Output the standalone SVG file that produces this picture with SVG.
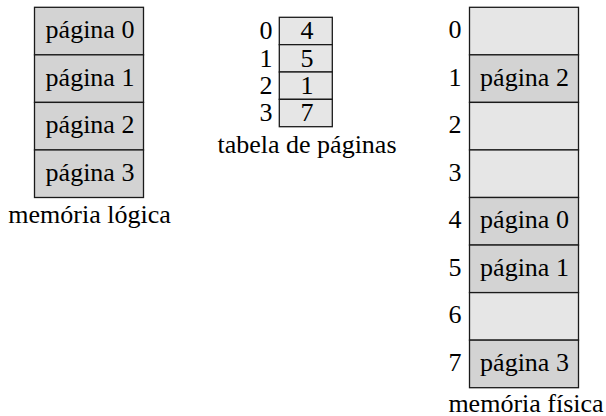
<svg xmlns="http://www.w3.org/2000/svg" width="606" height="416" viewBox="0 0 606 416">
<style>
text{font-family:"Liberation Serif","Times New Roman",serif;font-size:26px;fill:#000}
.c{text-anchor:middle}
.e{text-anchor:end}
.dark{fill:#d3d3d3;stroke:#1a1a1a;stroke-width:1.3}
.light{fill:#e6e6e6;stroke:#1a1a1a;stroke-width:1.3}
</style>
<rect width="606" height="416" fill="#fff"/>
<g id="logical-memory">
<rect class="dark" x="34.5" y="7.3" width="109" height="47.55"/>
<rect class="dark" x="34.5" y="54.85" width="109" height="47.55"/>
<rect class="dark" x="34.5" y="102.4" width="109" height="47.55"/>
<rect class="dark" x="34.5" y="149.95" width="109" height="47.55"/>
<text class="c" x="90" y="38.3">página 0</text>
<text class="c" x="90" y="85.9">página 1</text>
<text class="c" x="90" y="133.4">página 2</text>
<text class="c" x="90" y="181">página 3</text>
<text class="c" x="89.5" y="223">memória lógica</text>
</g>
<g id="page-table">
<rect class="light" x="279.3" y="17.3" width="53" height="27.35"/>
<rect class="light" x="279.3" y="44.65" width="53" height="27.35"/>
<rect class="light" x="279.3" y="72" width="53" height="27.35"/>
<rect class="light" x="279.3" y="99.35" width="53" height="27.35"/>
<text class="c" x="307" y="39.3">4</text>
<text class="c" x="307" y="66.6">5</text>
<text class="c" x="307" y="94">1</text>
<text class="c" x="307" y="121.3">7</text>
<text class="e" x="272.5" y="39.3">0</text>
<text class="e" x="272.5" y="66.6">1</text>
<text class="e" x="272.5" y="94">2</text>
<text class="e" x="272.5" y="121.3">3</text>
<text class="c" x="307" y="153">tabela de páginas</text>
</g>
<g id="physical-memory">
<rect class="light" x="469.5" y="7.3" width="109" height="47.55"/>
<rect class="dark" x="469.5" y="54.85" width="109" height="47.55"/>
<rect class="light" x="469.5" y="102.4" width="109" height="47.55"/>
<rect class="light" x="469.5" y="149.95" width="109" height="47.55"/>
<rect class="dark" x="469.5" y="197.5" width="109" height="47.55"/>
<rect class="dark" x="469.5" y="245.05" width="109" height="47.55"/>
<rect class="light" x="469.5" y="292.6" width="109" height="47.55"/>
<rect class="dark" x="469.5" y="340.15" width="109" height="47.55"/>
<text class="e" x="461.5" y="38">0</text>
<text class="e" x="461.5" y="85.5">1</text>
<text class="e" x="461.5" y="133">2</text>
<text class="e" x="461.5" y="180.6">3</text>
<text class="e" x="461.5" y="228.1">4</text>
<text class="e" x="461.5" y="275.7">5</text>
<text class="e" x="461.5" y="323.2">6</text>
<text class="e" x="461.5" y="370.8">7</text>
<text class="c" x="524.5" y="85.5">página 2</text>
<text class="c" x="524.5" y="228.1">página 0</text>
<text class="c" x="524.5" y="275.7">página 1</text>
<text class="c" x="524.5" y="370.8">página 3</text>
<text class="c" x="526" y="411.5">memória física</text>
</g>
</svg>
